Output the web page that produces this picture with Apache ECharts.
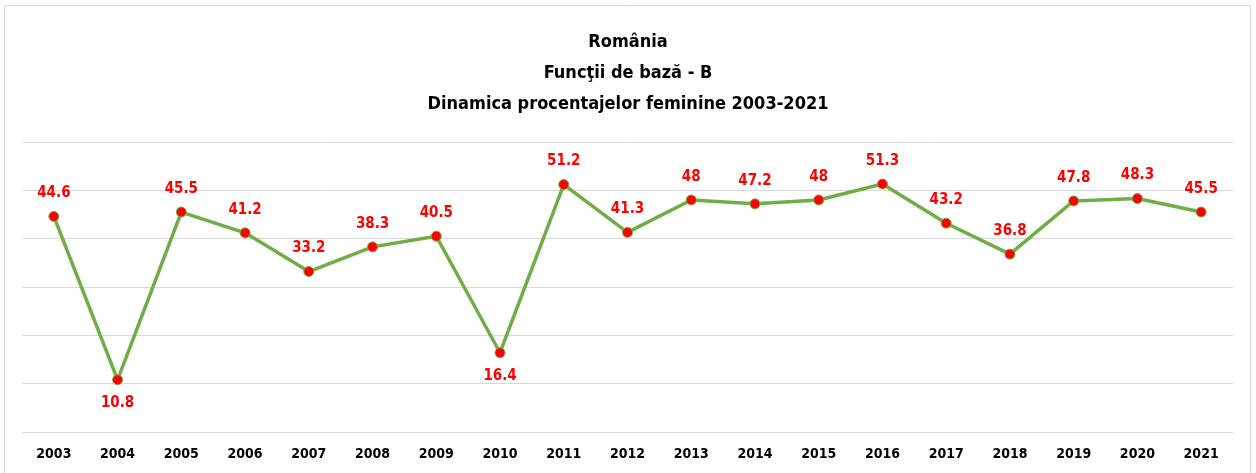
<!DOCTYPE html>
<html>
<head>
<meta charset="utf-8">
<script src="https://cdn.jsdelivr.net/npm/echarts@6/dist/echarts.min.js"></script>
<style>
  html, body { margin: 0; padding: 0; background: #fff; }
  #main { width: 1256px; height: 473px; }
</style>
</head>
<body>
<div id="main"></div>
<script>
// ani
var years = ['2003', '2004', '2005', '2006', '2007', '2008', '2009', '2010', '2011', '2012',
	'2013', '2014', '2015', '2016', '2017', '2018', '2019', '2020', '2021'];
// procente feminine
var values = [44.6, 10.8, 45.5, 41.2, 33.2, 38.3, 40.5, 16.4, 51.2, 41.3,
	48, 47.2, 48, 51.3, 43.2, 36.8, 47.8, 48.3, 45.5];
// etichete sub punct
var below = ['2004', '2010'];

var FONT = '"Liberation Sans Narrow", "DejaVu Sans Condensed", sans-serif';

var chart = echarts.init(document.getElementById('main'));

var points = values.map(function(v, i) {
	return {
		value: v,
		label: { position: below.indexOf(years[i]) != -1 ? 'bottom' : 'top' }
	};
});

chart.setOption({
	animation: false,
	backgroundColor: '#fff',
	graphic: [{
		type: 'rect',
		shape: { x: 4.5, y: 5.5, width: 1246, height: 480 },
		style: { fill: 'none', stroke: '#d9d9d9', lineWidth: 1 }
	}],
	title: {
		text: 'România\nFuncţii de bază - B\nDinamica procentajelor feminine 2003-2021',
		left: 'center',
		top: 22,
		textStyle: {
			fontFamily: FONT,
			fontSize: 18,
			fontWeight: 'bold',
			color: '#000',
			lineHeight: 31
		}
	},
	grid: { left: 22, right: 23, top: 142, bottom: 41 },
	xAxis: {
		type: 'category',
		data: years,
		boundaryGap: true,
		axisLine: { show: false },
		axisTick: { show: false },
		axisLabel: {
			margin: 15,
			fontFamily: FONT,
			fontSize: 14,
			fontWeight: 'bold',
			color: '#000'
		}
	},
	yAxis: {
		type: 'value',
		min: 0,
		max: 60,
		interval: 10,
		axisLabel: { show: false },
		axisLine: { show: false },
		axisTick: { show: false },
		splitLine: { lineStyle: { color: '#d9d9d9', width: 1 } }
	},
	series: [{
		type: 'line',
		data: points,
		symbol: 'circle',
		symbolSize: 10,
		lineStyle: { color: '#70ad47', width: 3.5 },
		itemStyle: { color: '#ff0000', borderColor: '#70ad47', borderWidth: 1 },
		label: {
			show: true,
			distance: 10,
			fontFamily: FONT,
			fontSize: 15,
			fontWeight: 'bold',
			color: '#ff0000'
		}
	}]
});
</script>
</body>
</html>
